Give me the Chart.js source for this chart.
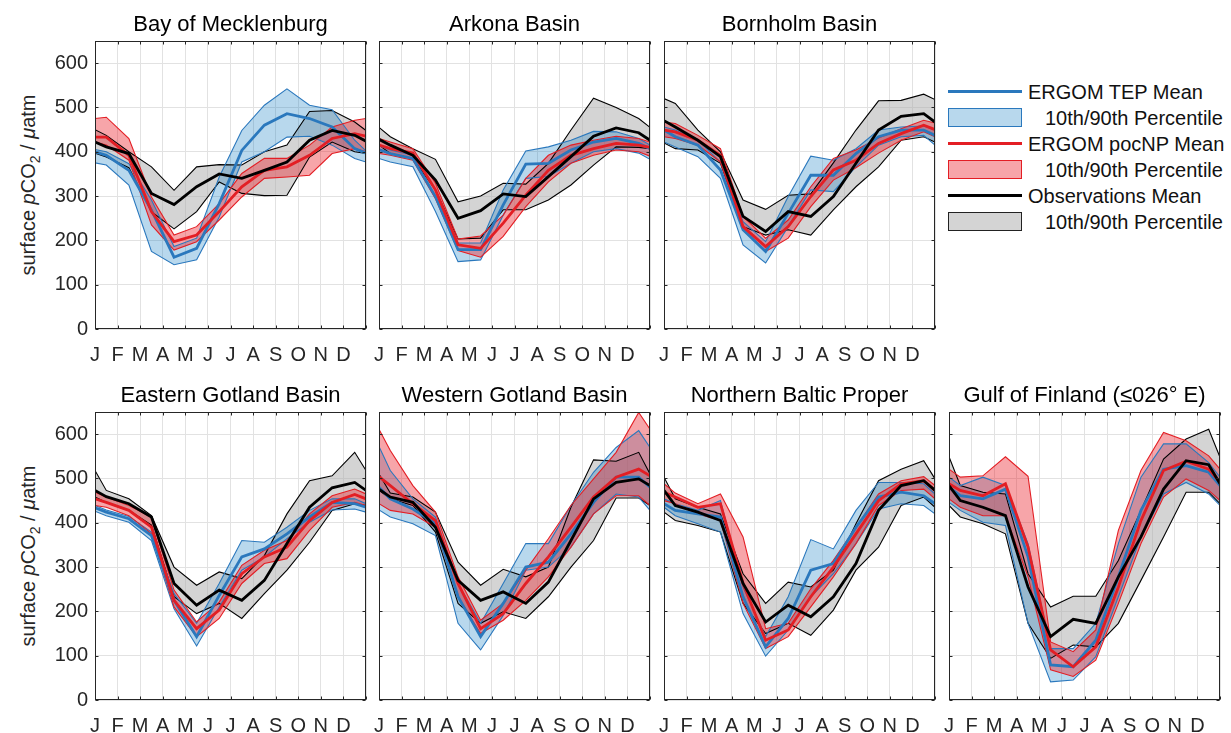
<!DOCTYPE html>
<html>
<head>
<meta charset="utf-8">
<script src="https://cdn.jsdelivr.net/npm/chart.js@4.4.1/dist/chart.umd.min.js"></script>
<style>
    body { margin: 0; background: #fff; width: 1231px; height: 733px; overflow: hidden; position: relative; font-family: "Liberation Sans", Arial, sans-serif; }
    canvas { position: absolute; }
    .ylab { position: absolute; font-size: 20px; color: #262626; white-space: nowrap; transform: translate(-50%, -50%) rotate(-90deg); }
    .lg-row { position: absolute; left: 948px; height: 26px; font-size: 20px; color: #111; white-space: nowrap; }
    .lg-line { position: absolute; left: 0; top: 11px; width: 74px; height: 3px; }
    .lg-box { position: absolute; left: 0; top: 3px; width: 72px; height: 17px; border: 1.5px solid; }
    .lg-text { position: absolute; top: 1px; line-height: 24px; }
</style>
</head>
<body>

<div class="ylab" style="left:30px; top:185px;">surface <i>p</i>CO<sub style="font-size:14px">2</sub> / <i>μ</i>atm</div>
<div class="ylab" style="left:30px; top:556px;">surface <i>p</i>CO<sub style="font-size:14px">2</sub> / <i>μ</i>atm</div>

<div id="legend"></div>

<script>
// month labels and x positions (mid-month points, plus both ends of the year)
const months = ['J', 'F', 'M', 'A', 'M', 'J', 'J', 'A', 'S', 'O', 'N', 'D'];
const xPos = [0, 0.5, 1.5, 2.5, 3.5, 4.5, 5.5, 6.5, 7.5, 8.5, 9.5, 10.5, 11.5, 12];

// Bay of Mecklenburg
const meckTepMean = [400, 392, 358, 268, 162, 182, 283, 403, 460, 486, 475, 456, 407, 397];
const meckTepP90  = [405, 400, 373, 291, 186, 205, 343, 448, 505, 542, 505, 495, 426, 402];
const meckTepP10  = [375, 370, 325, 175, 145, 156, 253, 377, 400, 433, 435, 415, 385, 377];
const meckPocMean = [433, 433, 392, 265, 197, 212, 265, 321, 358, 366, 392, 430, 441, 435];
const meckPocP90  = [475, 478, 430, 298, 212, 231, 283, 351, 385, 385, 415, 456, 471, 475];
const meckPocP10  = [422, 415, 381, 235, 178, 197, 246, 298, 340, 343, 347, 396, 407, 400];
const meckObsMean = [422, 411, 396, 306, 281, 321, 350, 340, 358, 377, 426, 448, 437, 424];
const meckObsP90  = [450, 437, 400, 366, 313, 366, 371, 370, 400, 415, 491, 493, 467, 448];
const meckObsP10  = [397, 388, 364, 265, 226, 265, 332, 306, 301, 302, 388, 422, 400, 396];

// Arkona Basin
const arkTepMean = [405, 396, 385, 299, 179, 179, 280, 372, 374, 404, 422, 430, 419, 407];
const arkTepP90  = [413, 404, 392, 314, 194, 194, 314, 402, 411, 426, 446, 445, 430, 415];
const arkTepP10  = [385, 377, 366, 265, 152, 156, 257, 340, 344, 374, 400, 407, 397, 383];
const arkPocMean = [415, 407, 397, 314, 190, 182, 239, 302, 358, 392, 407, 419, 415, 410];
const arkPocP90  = [430, 422, 407, 329, 203, 210, 257, 340, 392, 415, 426, 435, 430, 422];
const arkPocP10  = [396, 392, 381, 294, 177, 162, 209, 276, 332, 374, 392, 404, 400, 390];
const arkObsMean = [428, 415, 392, 336, 250, 267, 305, 299, 344, 389, 435, 454, 443, 426];
const arkObsP90  = [455, 434, 407, 383, 287, 300, 329, 327, 374, 449, 521, 500, 475, 455];
const arkObsP10  = [415, 396, 385, 314, 203, 205, 269, 269, 291, 325, 370, 411, 410, 407];

// Bornholm Basin
const bornTepMean = [449, 434, 415, 359, 224, 175, 261, 347, 347, 396, 434, 449, 449, 437];
const bornTepP90  = [456, 449, 426, 377, 242, 197, 299, 390, 381, 407, 449, 456, 458, 449];
const bornTepP10  = [422, 411, 389, 340, 190, 149, 231, 314, 310, 366, 415, 434, 437, 415];
const bornPocMean = [449, 445, 426, 392, 231, 186, 231, 299, 359, 381, 419, 441, 460, 450];
const bornPocP90  = [467, 464, 437, 407, 254, 205, 246, 321, 385, 404, 431, 452, 471, 465];
const bornPocP10  = [434, 430, 415, 377, 224, 175, 205, 276, 336, 364, 397, 426, 445, 434];
const bornObsMean = [470, 456, 426, 389, 254, 220, 265, 254, 299, 374, 449, 480, 486, 467];
const bornObsP90  = [520, 509, 449, 400, 291, 270, 302, 305, 375, 449, 515, 516, 530, 518];
const bornObsP10  = [420, 407, 404, 374, 231, 212, 224, 212, 269, 321, 366, 426, 434, 422];

// Eastern Gotland Basin
const egTepMean = [434, 424, 409, 371, 225, 143, 236, 323, 341, 375, 413, 446, 443, 435];
const egTepP90  = [439, 429, 414, 379, 240, 173, 263, 360, 356, 390, 428, 454, 454, 443];
const egTepP10  = [426, 416, 401, 360, 206, 122, 210, 293, 323, 364, 401, 429, 431, 424];
const egPocMean = [454, 446, 428, 390, 225, 161, 203, 285, 323, 345, 405, 446, 464, 454];
const egPocP90  = [469, 458, 439, 413, 248, 176, 221, 304, 338, 360, 420, 461, 476, 465];
const egPocP10  = [439, 435, 416, 375, 210, 143, 184, 263, 308, 319, 383, 435, 446, 439];
const egObsMean = [473, 459, 443, 413, 263, 214, 248, 225, 270, 353, 435, 479, 491, 473];
const egObsP90  = [518, 473, 454, 416, 300, 259, 289, 274, 326, 420, 495, 506, 559, 518];
const egObsP10  = [458, 446, 428, 395, 233, 195, 218, 184, 240, 293, 356, 428, 443, 439];

// Western Gotland Basin
const wgTepMean = [480, 454, 431, 398, 233, 143, 218, 300, 311, 375, 446, 503, 503, 480];
const wgTepP90  = [572, 518, 454, 413, 263, 173, 263, 353, 353, 439, 514, 570, 608, 570];
const wgTepP10  = [429, 413, 398, 371, 173, 113, 191, 293, 300, 345, 420, 465, 458, 428];
const wgPocMean = [504, 484, 443, 405, 263, 161, 195, 263, 323, 390, 458, 503, 521, 506];
const wgPocP90  = [611, 563, 484, 424, 278, 180, 218, 293, 364, 439, 499, 559, 649, 611];
const wgPocP10  = [443, 428, 420, 390, 233, 150, 180, 225, 278, 345, 420, 461, 461, 439];
const wgObsMean = [476, 458, 446, 390, 270, 225, 244, 218, 266, 360, 454, 491, 499, 484];
const wgObsP90  = [510, 467, 458, 424, 311, 259, 295, 278, 300, 435, 542, 539, 559, 510];
const wgObsP10  = [473, 454, 439, 379, 218, 173, 199, 184, 233, 300, 360, 456, 456, 439];

// Northern Baltic Proper
const nbpTepMean = [443, 428, 420, 413, 233, 120, 184, 293, 308, 390, 458, 469, 461, 443];
const nbpTepP90  = [454, 443, 428, 450, 255, 143, 233, 362, 341, 428, 491, 491, 488, 465];
const nbpTepP10  = [435, 416, 398, 379, 195,  99, 158, 233, 285, 353, 431, 443, 439, 420];
const nbpPocMean = [469, 458, 435, 443, 263, 135, 158, 233, 300, 375, 450, 488, 495, 473];
const nbpPocP90  = [488, 467, 443, 465, 368, 161, 173, 251, 315, 390, 465, 495, 504, 484];
const nbpPocP10  = [450, 443, 420, 405, 218, 116, 143, 210, 278, 353, 439, 473, 476, 454];
const nbpObsMean = [473, 439, 424, 405, 263, 176, 214, 188, 233, 308, 428, 484, 495, 473];
const nbpObsP90  = [503, 454, 435, 420, 285, 218, 266, 255, 293, 398, 495, 521, 540, 499];
const nbpObsP10  = [424, 405, 394, 379, 218, 150, 173, 146, 203, 293, 345, 439, 458, 435];

// Gulf of Finland
const gofTepMean = [480, 461, 454, 476, 323,  79,  75, 135, 278, 428, 521, 529, 514, 484];
const gofTepP90  = [503, 484, 503, 484, 353, 116, 116, 173, 353, 503, 578, 578, 536, 503];
const gofTepP10  = [446, 428, 401, 394, 173,  41,  45,  98, 233, 368, 465, 491, 465, 439];
const gofPocMean = [488, 473, 461, 488, 345, 113,  75, 120, 255, 405, 518, 539, 521, 491];
const gofPocP90  = [521, 503, 506, 549, 505, 131, 109, 158, 383, 518, 604, 585, 551, 521];
const gofPocP10  = [454, 435, 416, 416, 278,  68,  53,  90, 218, 353, 458, 499, 473, 450];
const gofObsMean = [484, 450, 435, 416, 255, 143, 182, 173, 278, 368, 476, 540, 531, 488];
const gofObsP90  = [549, 484, 469, 465, 285, 210, 234, 234, 315, 428, 544, 589, 611, 548];
const gofObsP10  = [439, 413, 398, 375, 173,  94, 124, 120, 173, 270, 368, 469, 469, 443];

const BLUE = '#2a78bd';
const BLUE_FILL = 'rgba(0, 114, 189, 0.28)';
const RED = '#e31e24';
const RED_FILL = 'rgba(235, 30, 40, 0.40)';
const BLACK = '#000000';
const GREY_FILL = 'rgba(170, 170, 170, 0.5)';
const FONT = '"Liberation Sans", Arial, sans-serif';

// plot-area geometry
const PLOT_W = 271, PLOT_H = 288;
const TITLE_H = 36, XAXIS_H = 40, PAD_R = 2;

const panels = [
    {title: 'Bay of Mecklenburg', left: 95, top: 41, yTicks: true,
     tep: [meckTepMean, meckTepP90, meckTepP10], poc: [meckPocMean, meckPocP90, meckPocP10], obs: [meckObsMean, meckObsP90, meckObsP10]},
    {title: 'Arkona Basin', left: 379, top: 41, yTicks: false,
     tep: [arkTepMean, arkTepP90, arkTepP10], poc: [arkPocMean, arkPocP90, arkPocP10], obs: [arkObsMean, arkObsP90, arkObsP10]},
    {title: 'Bornholm Basin', left: 664, top: 41, yTicks: false,
     tep: [bornTepMean, bornTepP90, bornTepP10], poc: [bornPocMean, bornPocP90, bornPocP10], obs: [bornObsMean, bornObsP90, bornObsP10]},
    {title: 'Eastern Gotland Basin', left: 95, top: 412, yTicks: true,
     tep: [egTepMean, egTepP90, egTepP10], poc: [egPocMean, egPocP90, egPocP10], obs: [egObsMean, egObsP90, egObsP10]},
    {title: 'Western Gotland Basin', left: 379, top: 412, yTicks: false,
     tep: [wgTepMean, wgTepP90, wgTepP10], poc: [wgPocMean, wgPocP90, wgPocP10], obs: [wgObsMean, wgObsP90, wgObsP10]},
    {title: 'Northern Baltic Proper', left: 664, top: 412, yTicks: false,
     tep: [nbpTepMean, nbpTepP90, nbpTepP10], poc: [nbpPocMean, nbpPocP90, nbpPocP10], obs: [nbpObsMean, nbpObsP90, nbpObsP10]},
    {title: 'Gulf of Finland (\u2264026\u00b0 E)', left: 949, top: 412, yTicks: false,
     tep: [gofTepMean, gofTepP90, gofTepP10], poc: [gofPocMean, gofPocP90, gofPocP10], obs: [gofObsMean, gofObsP90, gofObsP10]}
];

const legendItems = [
    {type: 'line', color: BLUE, text: 'ERGOM TEP Mean'},
    {type: 'box', color: BLUE, fill: BLUE_FILL, text: '10th/90th Percentile'},
    {type: 'line', color: RED, text: 'ERGOM pocNP Mean'},
    {type: 'box', color: RED, fill: RED_FILL, text: '10th/90th Percentile'},
    {type: 'line', color: BLACK, text: 'Observations Mean'},
    {type: 'box', color: '#222', fill: GREY_FILL, text: '10th/90th Percentile'}
];

function pts(arr) {
    return xPos.map((x, i) => ({x: x, y: arr[i]}));
}

function meanLine(arr, color) {
    return {data: pts(arr), borderColor: color, borderWidth: 2.8, pointRadius: 0, fill: false, tension: 0};
}

function edgeLine(arr, color, fillColor) {
    return {data: pts(arr), borderColor: color, borderWidth: 1.1, pointRadius: 0,
            fill: fillColor ? '+1' : false, backgroundColor: fillColor || 'transparent', tension: 0};
}

// frame round the plot area with MATLAB-style inward ticks
const boxPlugin = {
    id: 'box',
    afterDatasetsDraw(chart) {
        const {ctx, chartArea: a, scales} = chart;
        const l = Math.round(a.left) + 0.5, r = Math.round(a.right) - 0.5;
        const t = Math.round(a.top) + 0.5, b = Math.round(a.bottom) - 0.5;
        ctx.save();
        ctx.strokeStyle = '#262626';
        ctx.lineWidth = 1;
        ctx.strokeRect(l, t, r - l, b - t);
        ctx.beginPath();
        scales.x.ticks.forEach(tk => {
            const px = Math.round(scales.x.getPixelForValue(tk.value)) + 0.5;
            ctx.moveTo(px, b); ctx.lineTo(px, b - 3);
            ctx.moveTo(px, t); ctx.lineTo(px, t + 3);
        });
        scales.y.ticks.forEach(tk => {
            const py = Math.round(scales.y.getPixelForValue(tk.value)) + 0.5;
            ctx.moveTo(l, py); ctx.lineTo(l + 3, py);
            ctx.moveTo(r, py); ctx.lineTo(r - 3, py);
        });
        ctx.stroke();
        ctx.restore();
    }
};

// panel title centred over the plot area rather than the whole canvas
const titlePlugin = {
    id: 'panelTitle',
    afterDraw(chart, args, opts) {
        const {ctx, chartArea: a} = chart;
        ctx.save();
        ctx.font = '22px ' + FONT;
        ctx.fillStyle = '#000';
        ctx.textAlign = 'center';
        ctx.textBaseline = 'alphabetic';
        ctx.fillText(opts.text, (a.left + a.right) / 2, a.top - 10);
        ctx.restore();
    }
};

function makePanel(p, idx) {
    const yw = p.yTicks ? 95 : 10;
    const canvas = document.createElement('canvas');
    canvas.id = 'panel' + idx;
    canvas.width = yw + PLOT_W + PAD_R;
    canvas.height = TITLE_H + PLOT_H + XAXIS_H;
    canvas.style.left = (p.left - yw) + 'px';
    canvas.style.top = (p.top - TITLE_H) + 'px';
    document.body.appendChild(canvas);

    const datasets = [
        meanLine(p.obs[0], BLACK),
        meanLine(p.poc[0], RED),
        meanLine(p.tep[0], BLUE),
        edgeLine(p.poc[1], RED, RED_FILL),
        edgeLine(p.poc[2], RED, null),
        edgeLine(p.tep[1], BLUE, BLUE_FILL),
        edgeLine(p.tep[2], BLUE, null),
        edgeLine(p.obs[1], BLACK, GREY_FILL),
        edgeLine(p.obs[2], BLACK, null)
    ];

    new Chart(canvas.getContext('2d'), {
        type: 'line',
        data: {datasets: datasets},
        options: {
            responsive: false,
            animation: false,
            events: [],
            layout: {padding: {left: 0, right: PAD_R, top: TITLE_H, bottom: 0}},
            plugins: {
                legend: {display: false},
                tooltip: {enabled: false},
                title: {display: false},
                filler: {drawTime: 'beforeDatasetsDraw'},
                panelTitle: {text: p.title}
            },
            scales: {
                x: {
                    type: 'linear',
                    min: 0,
                    max: 12,
                    afterFit: s => { s.height = XAXIS_H; },
                    border: {display: false},
                    grid: {color: '#e2e2e2', lineWidth: 1, drawTicks: true, tickLength: 14, tickColor: 'rgba(0,0,0,0)'},
                    ticks: {
                        stepSize: 1,
                        autoSkip: false,
                        maxRotation: 0,
                        padding: 0,
                        color: '#262626',
                        font: {family: FONT, size: 20},
                        callback: v => months[v] || ''
                    }
                },
                y: {
                    min: 0,
                    max: 650,
                    afterFit: s => { s.width = yw; },
                    border: {display: false},
                    grid: {color: '#e2e2e2', lineWidth: 1, drawTicks: false},
                    ticks: {
                        display: p.yTicks,
                        stepSize: 100,
                        includeBounds: false,
                        padding: 7,
                        color: '#262626',
                        font: {family: FONT, size: 20}
                    }
                }
            }
        },
        plugins: [boxPlugin, titlePlugin]
    });
}

panels.forEach(makePanel);

// legend at the right of the top row
const legend = document.getElementById('legend');
const rowTops = [79, 105, 131, 157, 183, 209];
legendItems.forEach((item, i) => {
    const row = document.createElement('div');
    row.className = 'lg-row';
    row.style.top = rowTops[i] + 'px';
    if (item.type === 'line') {
        row.innerHTML = `<div class="lg-line" style="background:${item.color}"></div>
                         <div class="lg-text" style="left:80px">${item.text}</div>`;
    } else {
        row.innerHTML = `<div class="lg-box" style="background:${item.fill}; border-color:${item.color}"></div>
                         <div class="lg-text" style="left:97px">${item.text}</div>`;
    }
    legend.appendChild(row);
});
</script>
</body>
</html>
